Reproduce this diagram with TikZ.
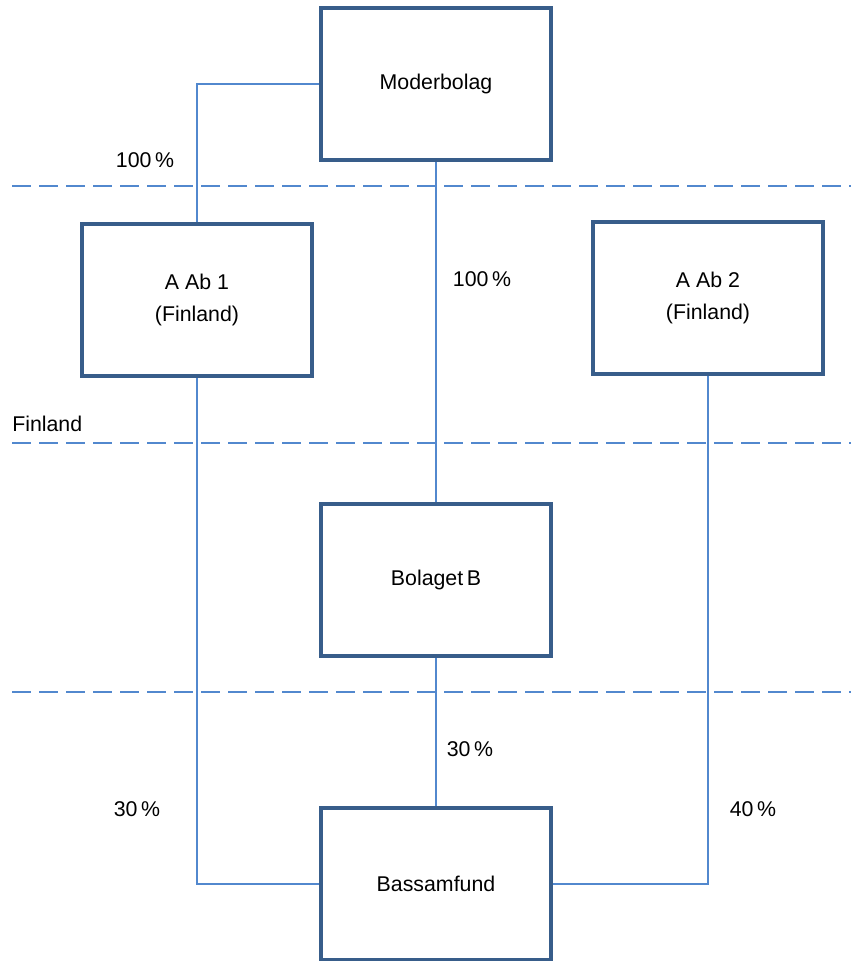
\documentclass[tikz,border=0pt]{standalone}
\usepackage{fontspec}
\setmainfont{Liberation Sans}
\usepackage{tikz}

\definecolor{boxblue}{HTML}{385D8A}
\definecolor{lineblue}{HTML}{5288CE}

\tikzset{
  company/.style={draw=boxblue, line width=3.6pt, fill=white, align=center,
    minimum width=172.5pt, minimum height=114pt, inner sep=0pt,
    font=\fontsize{16}{24}\selectfont},
  owner/.style={draw=lineblue, line width=1.8pt},
  border/.style={draw=lineblue, line width=1.9pt, dash pattern=on 14.25pt off 6pt},
  share/.style={inner sep=0pt, font=\fontsize{16}{19}\selectfont}
}

\begin{document}
\begin{tikzpicture}[x=0.75pt,y=-0.75pt]
		\useasboundingbox (0,0) rectangle (851,961);
		% country borders
		\draw [border] (12,186) -- (851,186);
		\draw [border] (12,443) -- (851,443);
		\draw [border] (12,692) -- (851,692);
		\node [share, anchor=west] (fi) at (12,424) {Finland};
		% companies
		\node [company] (mb) at (436,84) {Moderbolag};
		\node [company] (a1) at (197,300) {A Ab 1\\(Finland)};
		\node [company] (a2) at (708,298) {A Ab 2\\(Finland)};
		\node [company] (bb) at (436,580) {Bolaget\,B};
		\node [company] (bf) at (436,884) {Bassamfund};
		% ownership
		\draw [owner] (mb.west) -| (a1.north);
		\draw [owner] (mb.south) -- (bb.north);
		\draw [owner] (bb.south) -- (bf.north);
		\draw [owner] (a1.south) |- (bf.west);
		\draw [owner] (a2.south) |- (bf.east);
		\node [share] (p1) at (145,160) {100\,\%};
		\node [share] (p2) at (482,279) {100\,\%};
		\node [share] (p3) at (470,749) {30\,\%};
		\node [share] (p4) at (137,809) {30\,\%};
		\node [share] (p5) at (753,809) {40\,\%};
	\end{tikzpicture}
\end{document}
